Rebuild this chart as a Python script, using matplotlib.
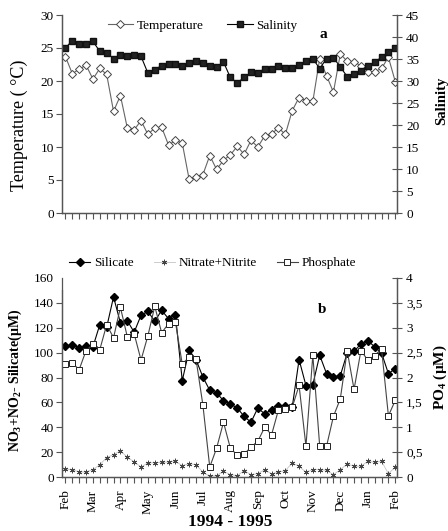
import matplotlib
matplotlib.use('Agg')
import matplotlib.pyplot as plt
import numpy as np

# weekly samples, Feb 1994 - Feb 1995
temperature = [23.7, 21.1, 21.8, 22.4, 20.3, 21.9, 21.0, 15.4, 17.8, 12.9, 12.6, 14.0, 11.9,
               12.9, 13.0, 10.3, 11.0, 10.6, 5.1, 5.5, 5.8, 8.7, 6.6, 8.0, 8.8, 10.1, 8.9,
               11.0, 10.0, 11.7, 12.0, 12.9, 11.9, 15.5, 17.5, 17.0, 16.9, 23.4, 20.8, 18.3,
               24.1, 23.0, 22.9, 22.3, 21.4, 21.4, 21.9, 23.6, 19.9]
salinity = [37.5, 39.2, 38.4, 38.4, 39.0, 36.75, 36.4, 35.1, 35.8, 35.6, 35.8, 35.6, 31.8,
            32.6, 33.5, 33.9, 33.9, 33.5, 34.1, 34.5, 34.1, 33.5, 33.2, 34.3, 30.8, 29.6, 30.8,
            32.0, 31.9, 32.8, 32.8, 33.5, 33.0, 33.0, 33.6, 34.5, 35.1, 32.8, 35.1, 35.3,
            33.2, 31.0, 31.7, 32.3, 33.4, 34.3, 35.4, 36.5, 37.4]
silicate = [105.1, 106.2, 104.0, 105.6, 104.6, 122.5, 120.4, 144.8, 123.9, 125.7, 116.4, 130.0,
            133.2, 125.2, 134.0, 127.3, 130.6, 77.5, 101.9, 94.4, 80.4, 69.7, 67.6, 61.4, 58.7,
            55.5, 48.8, 44.0, 55.5, 50.7, 54.2, 56.8, 56.8, 56.0, 94.4, 73.5, 74.3, 97.9, 83.1,
            80.2, 81.5, 99.7, 101.0, 107.0, 109.7, 104.6, 99.7, 83.1, 87.1]
nitrate = [6.4, 5.9, 4.0, 4.0, 5.9, 9.9, 15.6, 18.0, 21.2, 15.8, 12.3, 7.9, 11.5, 11.3, 11.8,
           12.0, 12.6, 9.1, 10.7, 9.9, 4.0, 0.5, 1.1, 4.6, 1.9, 1.1, 5.1, 1.9, 2.7, 5.9, 2.4,
           4.0, 5.1, 11.3, 8.6, 3.8, 5.9, 5.9, 5.4, 1.9, 5.9, 10.5, 8.6, 8.6, 12.6, 11.8, 12.6,
           2.7, 8.0]
phosphate = [2.27, 2.29, 2.16, 2.54, 2.67, 2.56, 3.06, 2.80, 3.41, 2.82, 2.88, 2.35, 2.84,
             3.43, 2.90, 3.08, 3.12, 2.27, 2.41, 2.37, 1.45, 0.20, 0.58, 1.10, 0.58, 0.44, 0.46,
             0.60, 0.72, 1.00, 0.85, 1.35, 1.37, 1.40, 1.84, 0.62, 2.45, 0.62, 0.62, 1.22, 1.57,
             2.54, 1.76, 2.54, 2.35, 2.44, 2.58, 1.23, 1.54]
months = ['Feb', 'Mar', 'Apr', 'May', 'Jun', 'Jul', 'Aug', 'Sep', 'Oct', 'Nov', 'Dec', 'Jan', 'Feb']
po4_ticks = ['0', '0,5', '1', '1,5', '2', '2,5', '3', '3,5', '4']

plt.rcParams['font.family'] = ['Liberation Serif', 'DejaVu Serif']
plt.rcParams['mathtext.fontset'] = 'custom'
plt.rcParams['mathtext.rm'] = 'Liberation Serif'
plt.rcParams['mathtext.bf'] = 'Liberation Serif:bold'

W, H = 448, 531
fig = plt.figure(figsize=(W / 100, H / 100), dpi=100)
x = np.arange(len(temperature))
axc = '#555555'


def style(ax, axr):
    for a in (ax, axr):
        a.spines['top'].set_visible(False)
        for s in ('left', 'right', 'bottom'):
            a.spines[s].set_color(axc)
            a.spines[s].set_linewidth(0.9)
    ax.tick_params(axis='y', direction='out', length=4, color=axc, labelsize=9.5, pad=2)
    axr.tick_params(axis='y', direction='inout', length=7, color=axc, labelsize=9.5, pad=3)
    ax.tick_params(axis='x', direction='out', length=4, color=axc, labelsize=9.5, pad=5)
    ax.set_xlim(-0.5, 48.25)


# panel a
ax1 = fig.add_axes([62 / W, 1 - 213 / H, 335 / W, 198 / H])
ax1b = ax1.twinx()
l1, = ax1.plot(x, temperature, color='#666666', lw=0.8, marker='D', ms=4, mfc='white',
               mec='#444444', mew=0.7, label='Temperature')
l2, = ax1b.plot(x, salinity, color='black', lw=0.8, marker='s', ms=3.8, mfc='#222222',
                mec='#111111', label='Salinity')
ax1.set_ylim(0, 30)
ax1.set_yticks(range(0, 31, 5))
ax1b.set_ylim(0, 45)
ax1b.set_yticks(range(0, 46, 5))
ax1.set_xticks(x)
ax1.set_xticklabels([])
style(ax1, ax1b)
ax1b.legend(handles=[l1, l2], ncol=2, frameon=False, loc='center',
            bbox_to_anchor=(0.42, 0.945), fontsize=9.5, handlelength=1.9,
            handletextpad=0.3, columnspacing=1.8)
ax1.text(0.78, 0.9, 'a', transform=ax1.transAxes, fontsize=11, fontweight='bold',
         ha='center', va='center')

# panel b
ax2 = fig.add_axes([62 / W, 1 - 477 / H, 335 / W, 199 / H])
ax2b = ax2.twinx()
h1, = ax2.plot(x, silicate, color='black', lw=0.8, marker='D', ms=3.8, mfc='black',
               mec='black', label='Silicate')
h2, = ax2.plot(x, nitrate, color='#c4c4c4', lw=0.6, marker=(6, 2, 0), ms=4,
               mec='#444444', mew=0.6, label='Nitrate+Nitrite')
h3, = ax2b.plot(x, phosphate, color='#444444', lw=0.8, marker='s', ms=4.3, mfc='white',
                mec='#222222', mew=0.7, label='Phosphate')
ax2.set_ylim(0, 160)
ax2.set_yticks(range(0, 161, 20))
ax2b.set_ylim(0, 4)
ax2b.set_yticks(np.arange(0, 4.01, 0.5))
ax2b.set_yticklabels(po4_ticks)
ax2.set_xticks(x)
labels = [''] * len(x)
for i, m in enumerate(months):
    labels[i * 4] = m
ax2.set_xticklabels(labels, rotation=90)
style(ax2, ax2b)
ax2.spines['left'].set_bounds(0, 150)
ax2.yaxis.get_major_ticks()[-1].tick1line.set_visible(False)
ax2b.legend(handles=[h1, h2, h3], ncol=3, frameon=False, loc='center',
            bbox_to_anchor=(0.45, 1.075), fontsize=9.5, handlelength=1.6,
            handletextpad=0.3, columnspacing=1.5)
ax2.text(0.776, 0.84, 'b', transform=ax2.transAxes, fontsize=11, fontweight='bold',
         ha='center', va='center')

# axis titles
fig.text(19 / W, 1 - 125 / H, 'Temperature ( °C)', rotation=90, fontsize=13,
         ha='center', va='center')
fig.text(442 / W, 1 - 101 / H, 'Salinity', rotation=90, fontsize=10.5, fontweight='bold',
         ha='center', va='center')
fig.text(15 / W, 1 - 380 / H, r'NO$_\mathbf{3}$+NO$_\mathbf{2}$- Silicate(µM)', rotation=90,
         fontsize=10, fontweight='bold', ha='center', va='center')
fig.text(440 / W, 1 - 377 / H, r'PO$_\mathbf{4}$ (µM)', rotation=90, fontsize=11,
         fontweight='bold', ha='center', va='center')
fig.text(230 / W, 1 - 522 / H, '1994 - 1995', fontsize=12.5, fontweight='bold',
         ha='center', va='center')

fig.savefig('out.png', dpi=100)
